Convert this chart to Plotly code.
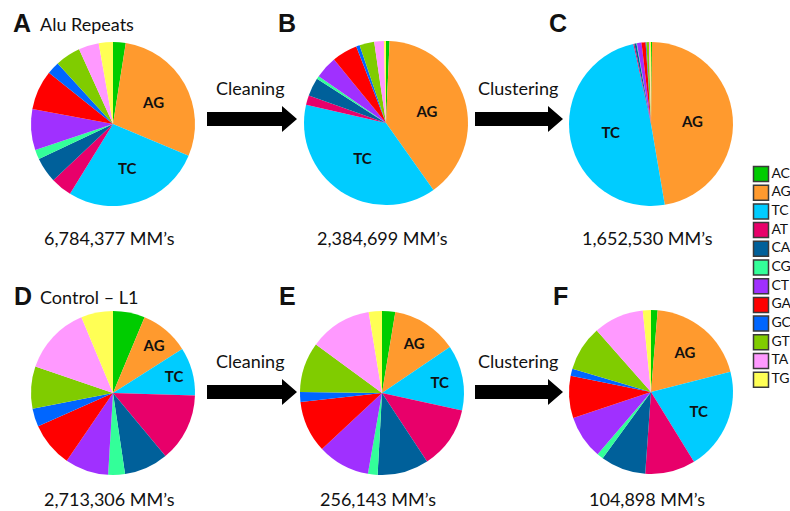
import plotly.graph_objects as go

# Mismatch (MM) dinucleotide classes, in clockwise slice order
labels = ["AC", "AG", "TC", "AT", "CA", "CG", "CT", "GA", "GC", "GT", "TA", "TG"]
colors = ["#00CC00", "#FF9A2E", "#00CCFF", "#E8006A", "#00609A", "#33FF99",
          "#A030FF", "#FF0000", "#0066FF", "#80CC00", "#FF99FF", "#FFFF55"]

# Share of mismatches (%) per class at each processing stage
alu_raw = [2.5, 28.9, 27.5, 4.2, 5.0, 1.9, 8.1, 7.8, 2.5, 5.0, 4.0, 2.8]
alu_cleaned = [0.7, 39.4, 38.3, 1.9, 3.6, 0.6, 4.4, 5.0, 0.7, 2.9, 1.9, 0.4]
alu_clustered = [0.2, 47.0, 49.1, 0.2, 0.4, 0.1, 0.9, 0.8, 0.15, 0.5, 0.2, 0.2]
l1_raw = [6.3, 9.7, 9.5, 13.5, 8.7, 3.3, 8.6, 8.8, 3.6, 8.3, 13.5, 6.3]
l1_cleaned = [2.6, 12.9, 12.9, 12.3, 10.1, 1.9, 10.3, 10.2, 1.9, 9.9, 12.3, 2.6]
l1_clustered = [1.3, 19.7, 20.2, 9.9, 8.9, 1.25, 8.6, 8.3, 1.4, 8.9, 9.9, 1.6]

mm_totals = ["6,784,377 MM’s", "2,384,699 MM’s", "1,652,530 MM’s",
             "2,713,306 MM’s", "256,143 MM’s", "104,898 MM’s"]
panel_letters = ["A", "B", "C", "D", "E", "F"]
row_titles = ["Alu Repeats", "Control – L1"]
step_names = ["Cleaning", "Clustering"]
labelled = ["AG", "TC"]

W, H = 790, 511
FONT = "Lato"


def px(x):
    return x / W


def py(y):
    return 1 - y / H


series = [alu_raw, alu_cleaned, alu_clustered, l1_raw, l1_cleaned, l1_clustered]
centers = [(113, 124), (386, 123), (651, 124), (113, 393), (382, 393), (651, 392)]
R = 82

fig = go.Figure()
for vals, (cx, cy) in zip(series, centers):
    fig.add_trace(go.Pie(
        labels=labels, values=vals, sort=False, direction="clockwise", rotation=0,
        marker=dict(colors=colors, line=dict(width=0)),
        text=[lab if lab in labelled else "" for lab in labels],
        textinfo="text", textposition="inside", insidetextorientation="horizontal",
        textfont=dict(family=FONT, size=15, color="#111111", weight="bold"),
        hoverinfo="label+percent", showlegend=False,
        domain=dict(x=[px(cx - R), px(cx + R)], y=[py(cy + R), py(cy - R)]),
    ))

# Colour key on its own small axis pair
fig.add_trace(go.Scatter(
    x=[8] * len(labels), y=labels, mode="markers+text",
    marker=dict(symbol="square", size=15, color=colors, line=dict(color="#3a3a3a", width=1.5)),
    text=labels, textposition="middle right",
    textfont=dict(family=FONT, size=14, color="#111111"),
    xaxis="x2", yaxis="y2", showlegend=False, hoverinfo="skip", cliponaxis=False,
))
row0, step = 174, 18.7
fig.update_layout(
    xaxis2=dict(domain=[px(753), 1], range=[0, 37], visible=False, fixedrange=True),
    yaxis2=dict(domain=[py(row0 + step * 11.5), py(row0 - step * 0.5)],
                range=[11.5, -0.5], type="category", categoryarray=labels,
                visible=False, fixedrange=True, anchor="x2"),
)

annotations = []
for i, (cx, cy) in enumerate(centers):
    # panel letter above each pie
    lx = [22, 287, 558, 23, 287, 560][i]
    ly = 23 if i < 3 else 296
    annotations.append(dict(x=px(lx), y=py(ly), xref="paper", yref="paper",
                            text=f"<b>{panel_letters[i]}</b>", showarrow=False,
                            xanchor="center", yanchor="middle",
                            font=dict(family="Liberation Sans", size=25, color="#111111")))
    # MM totals below each pie
    if i < 3:
        ty, anchor = py(238), "middle"
    else:
        ty, anchor = 0, "bottom"
    annotations.append(dict(x=px(cx - 4), y=ty, xref="paper", yref="paper",
                            text=mm_totals[i], showarrow=False, borderpad=0,
                            xanchor="center", yanchor=anchor,
                            font=dict(family=FONT, size=18, color="#111111")))

for r, title in enumerate(row_titles):
    annotations.append(dict(x=px(38), y=py(24 if r == 0 else 297), xref="paper", yref="paper",
                            text=title, showarrow=False, xanchor="left", yanchor="middle",
                            font=dict(family=FONT, size=18, color="#111111")))

shapes = []
arrow_x = [(207, 297), (475, 563)]
for r, ay in enumerate([119, 392]):
    for k, (x0, x1) in enumerate(arrow_x):
        annotations.append(dict(x=px((x0 + x1) / 2 - 1), y=py(ay - 31), xref="paper", yref="paper",
                                text=step_names[k], showarrow=False,
                                xanchor="center", yanchor="middle",
                                font=dict(family=FONT, size=18, color="#111111")))
        xh = x1 - 15
        pts = [(x0, ay - 7), (xh, ay - 7), (xh, ay - 13), (x1, ay),
               (xh, ay + 13), (xh, ay + 7), (x0, ay + 7)]
        path = "M " + " L ".join(f"{px(a):.5f},{py(b):.5f}" for a, b in pts) + " Z"
        shapes.append(dict(type="path", xref="paper", yref="paper", path=path,
                           fillcolor="#000000", line=dict(width=0)))

fig.update_layout(
    width=W, height=H, margin=dict(l=0, r=0, t=0, b=0),
    paper_bgcolor="white", plot_bgcolor="white",
    font=dict(family=FONT, color="#111111"),
    annotations=annotations, shapes=shapes,
)

fig.write_html("out.html")
